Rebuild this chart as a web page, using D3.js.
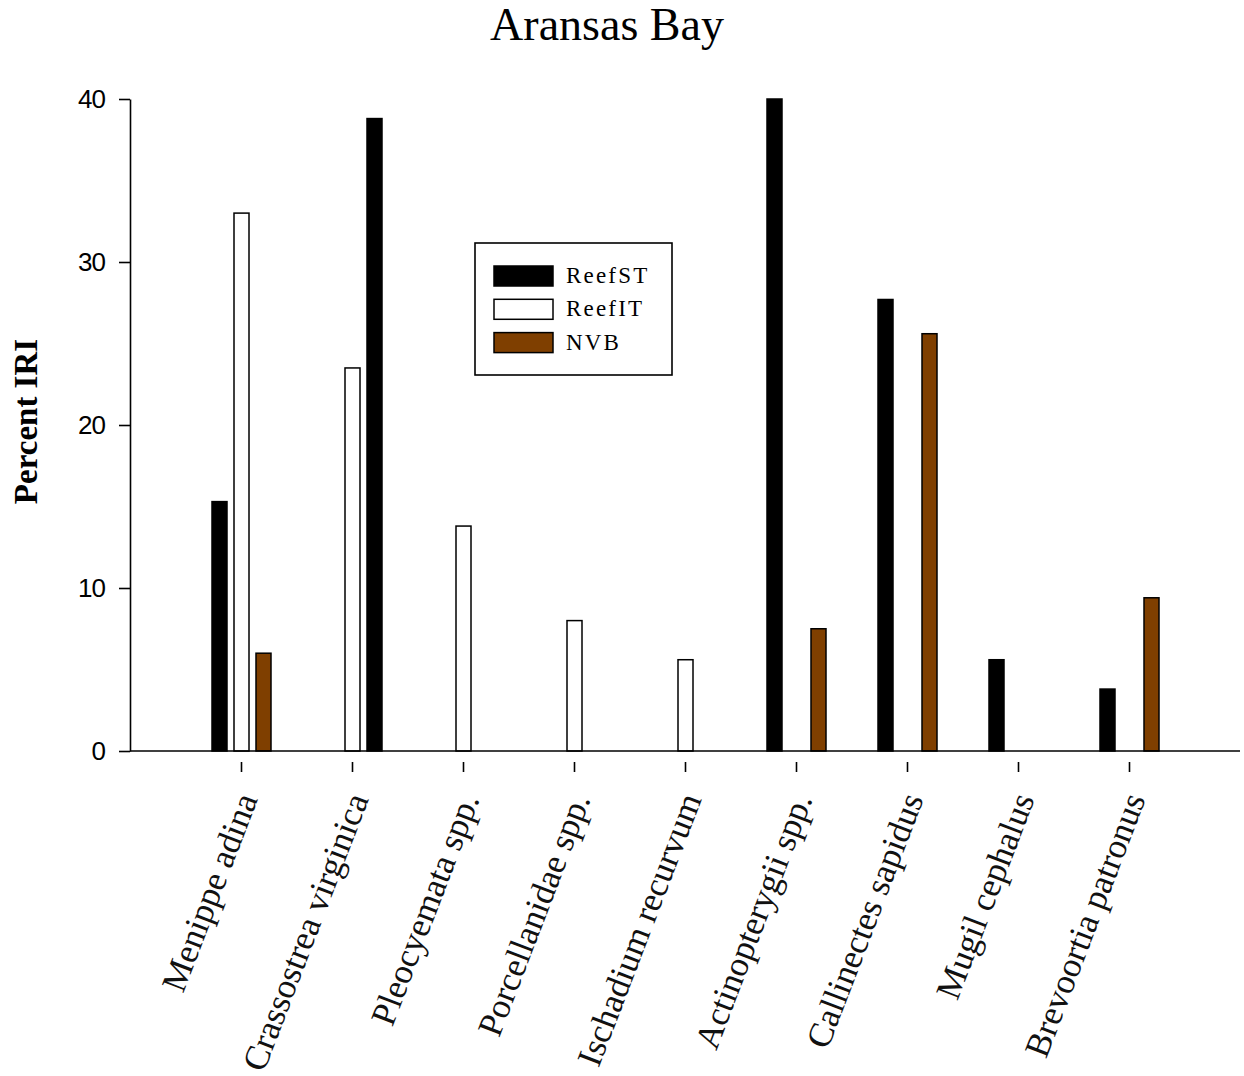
<!DOCTYPE html>
<html>
<head>
<meta charset="utf-8">
<script src="https://cdn.jsdelivr.net/npm/d3@7"></script>
<style>
  html, body { margin: 0; padding: 0; background: #fff; }
  svg { display: block; }
</style>
</head>
<body>
<svg id="chart" width="1244" height="1076"></svg>
<script>
// Species groups along the x axis
const categories = [
  "Menippe adina", "Crassostrea virginica", "Pleocyemata spp.",
  "Porcellanidae spp.", "Ischadium recurvum", "Actinopterygii spp.",
  "Callinectes sapidus", "Mugil cephalus", "Brevoortia patronus"
];

// Series names as shown in the legend
const seriesNames = ["ReefST", "ReefIT", "NVB"];

// Percent IRI per species (null = not recorded)
const reefST = [15.3, 38.8, null, null, null, 40.0, 27.7, 5.6, 3.8];
const reefIT = [33.0, 23.5, 13.8, 8.0, 5.6, null, null, null, null];
const nvb    = [6.0, null, null, null, null, 7.5, 25.6, null, 9.4];

// Y axis tick values
const yTicks = [0, 10, 20, 30, 40];

// Species whose ReefST bar occupies the outer (third) slot of its group
const reefSTOuterSlot = ["Crassostrea virginica"];

const seriesValues = [reefST, reefIT, nvb];
const seriesFill = { ReefST: "#000000", ReefIT: "#ffffff", NVB: "#7f3f00" };

const svg = d3.select("#chart");

const x = d3.scalePoint().domain(categories).range([130, 1240]).padding(1);
const y = d3.scaleLinear().domain([0, 40]).range([751, 99]);
const slot = d3.scaleBand().domain([0, 1, 2]).range([-29.5, 29.5]).paddingInner(7 / 22);

// Flatten into bar records
const bars = [];
seriesNames.forEach((name, si) => {
  seriesValues[si].forEach((v, ci) => {
    if (v == null) return;
    const cat = categories[ci];
    let s = si;
    if (name === "ReefST" && reefSTOuterSlot.includes(cat)) s = 2;
    bars.push({ cat, name, value: v, slot: s });
  });
});

// Bars
svg.append("g")
  .selectAll("rect")
  .data(bars)
  .join("rect")
  .attr("x", d => x(d.cat) + 0.5 + slot(d.slot))
  .attr("y", d => y(d.value))
  .attr("width", slot.bandwidth())
  .attr("height", d => y(0) - y(d.value))
  .attr("fill", d => seriesFill[d.name])
  .attr("stroke", "#000")
  .attr("stroke-width", 1.5);

// Y axis
const yAxis = svg.append("g")
  .attr("transform", "translate(130,0)")
  .call(d3.axisLeft(y).tickValues(yTicks).tickSizeInner(11).tickSizeOuter(0).tickPadding(14).tickFormat(d3.format("d")));
yAxis.select(".domain").attr("stroke-width", 1.6);
yAxis.selectAll(".tick line").attr("stroke-width", 1.6);
yAxis.selectAll(".tick text")
  .attr("font-family", "'Liberation Sans', Arial, sans-serif")
  .attr("font-size", 26)
  .attr("letter-spacing", -1)
  .attr("fill", "#000");

// X axis baseline
svg.append("line")
  .attr("x1", 130).attr("x2", 1240)
  .attr("y1", y(0)).attr("y2", y(0))
  .attr("stroke", "#000").attr("stroke-width", 1.6);

// Detached x ticks below the baseline
const xAxis = svg.append("g")
  .attr("transform", "translate(0,762)")
  .call(d3.axisBottom(x).tickSize(10).tickFormat(""));
xAxis.select(".domain").remove();
xAxis.selectAll(".tick line").attr("stroke-width", 1.6);

// Rotated species labels
svg.append("g")
  .selectAll("text")
  .data(categories)
  .join("text")
  .attr("transform", d => `translate(${x(d) + 17},799) rotate(-69)`)
  .attr("text-anchor", "end")
  .attr("font-family", "'Liberation Serif', 'Times New Roman', serif")
  .attr("font-size", 35)
  .attr("fill", "#111")
  .text(d => d);

// Title
svg.append("text")
  .attr("x", 607).attr("y", 40)
  .attr("text-anchor", "middle")
  .attr("font-family", "'Liberation Serif', 'Times New Roman', serif")
  .attr("font-size", 46)
  .attr("fill", "#000")
  .text("Aransas Bay");

// Y axis title
svg.append("text")
  .attr("transform", "translate(37,421.5) rotate(-90)")
  .attr("text-anchor", "middle")
  .attr("font-family", "'Liberation Serif', 'Times New Roman', serif")
  .attr("font-weight", "bold")
  .attr("font-size", 33)
  .attr("fill", "#000")
  .text("Percent IRI");

// Legend
const legend = svg.append("g");
legend.append("rect")
  .attr("x", 475).attr("y", 243)
  .attr("width", 197).attr("height", 132)
  .attr("fill", "#fff").attr("stroke", "#000").attr("stroke-width", 1.6);
const rows = legend.selectAll("g.row")
  .data(seriesNames)
  .join("g")
  .attr("class", "row")
  .attr("transform", (d, i) => `translate(494,${266 + i * 33.3})`);
rows.append("rect")
  .attr("width", 59).attr("height", 20)
  .attr("fill", d => seriesFill[d])
  .attr("stroke", "#000").attr("stroke-width", 1.5);
rows.append("text")
  .attr("x", 72).attr("y", 17)
  .attr("font-family", "'Liberation Serif', 'Times New Roman', serif")
  .attr("font-size", 23)
  .attr("letter-spacing", 2.2)
  .attr("fill", "#000")
  .text(d => d);
</script>
</body>
</html>
